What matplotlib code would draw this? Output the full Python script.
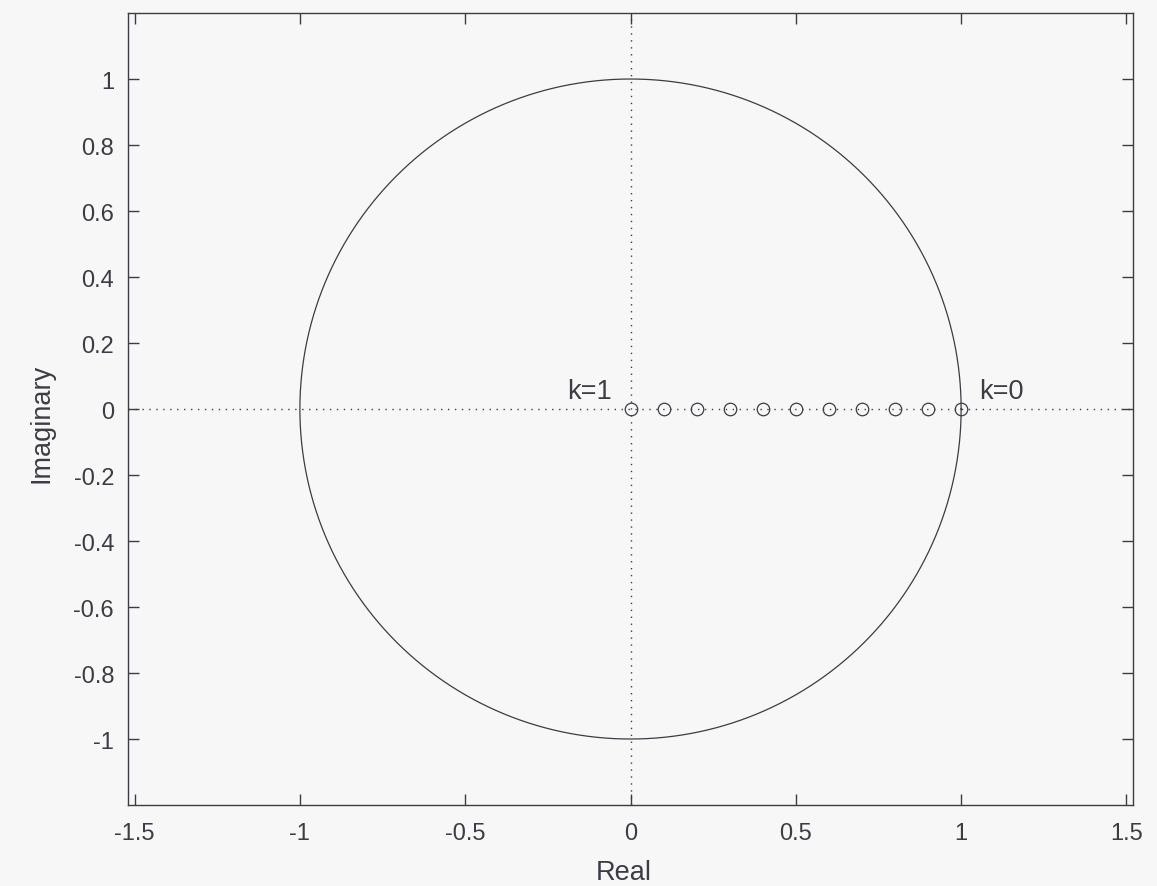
import matplotlib
matplotlib.use('Agg')
import matplotlib.pyplot as plt
import numpy as np

# pole locations on the real axis, k = 1 -> 0
pole_re = [0.0, 0.1, 0.2, 0.3, 0.4, 0.5, 0.6, 0.7, 0.8, 0.9, 1.0]
pole_im = [0.0] * len(pole_re)

x_ticks = [-1.5, -1, -0.5, 0, 0.5, 1, 1.5]
y_ticks = [-1, -0.8, -0.6, -0.4, -0.2, 0, 0.2, 0.4, 0.6, 0.8, 1]

ink = '#3c3c44'
bg = '#f7f7f7'

plt.rcParams['font.family'] = ['Liberation Sans', 'DejaVu Sans']
plt.rcParams['font.size'] = 17

fig = plt.figure(figsize=(11.57, 8.87), dpi=100, facecolor=bg)
ax = fig.add_axes([0.1106, 0.0913, 0.8687, 0.8929], facecolor=bg)

# unit circle
theta = np.linspace(0, 2 * np.pi, 721)
ax.plot(np.cos(theta), np.sin(theta), color=ink, lw=0.9)

# dotted real / imaginary axes
ax.axhline(0, color=ink, lw=1.0, ls=(0, (1, 4)))
ax.axvline(0, color=ink, lw=1.0, ls=(0, (1, 4)))

# root locus points
ax.plot(pole_re, pole_im, 'o', mfc='none', mec=ink, ms=9, mew=0.9)

ax.text(-0.055, 0.055, 'k=1', ha='right', va='center', color=ink, fontsize=19.5)
ax.text(1.055, 0.055, 'k=0', ha='left', va='center', color=ink, fontsize=19.5)

ax.set_xlim(-1.52, 1.52)
ax.set_ylim(-1.2, 1.2)
ax.set_xticks(x_ticks)
ax.set_yticks(y_ticks)
ax.set_xticklabels(['-1.5', '-1', '-0.5', '0', '0.5', '1', '1.5'])
ax.set_yticklabels(['-1', '-0.8', '-0.6', '-0.4', '-0.2', '0', '0.2', '0.4', '0.6', '0.8', '1'])
ax.tick_params(direction='in', length=8, width=1, color=ink, labelcolor=ink,
               top=True, right=True, pad=12)
ax.tick_params(axis='y', pad=10)
for s in ax.spines.values():
    s.set_color(ink)
    s.set_linewidth(1.0)

ax.set_xlabel('Real', color=ink, fontsize=19.5, va='center')
ax.set_ylabel('Imaginary', color=ink, fontsize=19.5, va='center', ha='center')
ax.xaxis.set_label_coords(0.4935, -0.0846)
ax.yaxis.set_label_coords(-0.0856, 0.4836)

fig.savefig('out.png', dpi=100, facecolor=bg)
